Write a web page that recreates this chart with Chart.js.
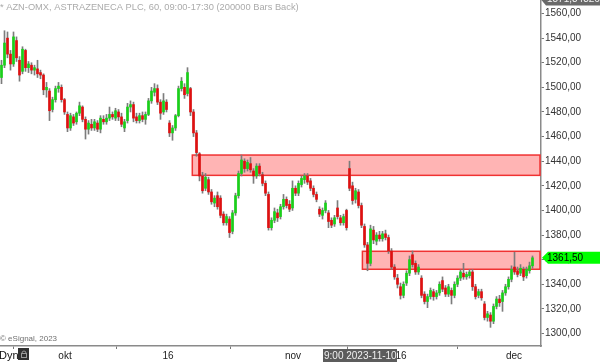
<!DOCTYPE html>
<html>
<head>
<meta charset="utf-8">
<script src="https://cdn.jsdelivr.net/npm/chart.js@4/dist/chart.umd.min.js"></script>
<style>
  html, body { margin: 0; padding: 0; background: #fff; }
  #wrap { width: 600px; height: 362px; }
</style>
</head>
<body>
<div id="wrap"><canvas id="chart" width="600" height="362"></canvas></div>
<script>
// hourly candles (one candle per ~3 px of the original)
const opens = [
  1508,1518,1540,1527,1519,1538,1522,1513,1530,1516,1518,1514,1515,1512,1510,
  1498,1497,1482,1490,1499,1500,1490,1478,1467,1476,1472,1479,1484,1474,1466,
  1470,1467,1471,1466,1474,1472,1475,1478,1475,1480,1476,1467,1473,1484,1486,
  1476,1473,1477,1474,1478,1489,1496,1499,1488,1480,1488,1471,1463,1467,1477,
  1499,1500,1495,1499,1480,1463,1446,1428,1418,1425,1415,1406,1412,1410,1397,
  1390,1393,1383,1398,1412,1430,1440,1434,1438,1432,1428,1436,1429,1422,1413,
  1386,1392,1398,1395,1403,1409,1405,1402,1418,1414,1421,1425,1428,1424,1418,
  1413,1401,1396,1400,1398,1392,1389,1402,1394,1390,1400,1434,1420,1409,1415,
  1404,1387,1372,1357,1384,1375,1380,1377,1381,1378,1367,1354,1345,1338,1331,
  1341,1349,1364,1357,1350,1345,1332,1326,1330,1334,1330,1333,1343,1337,1332,
  1335,1331,1340,1345,1349,1346,1347,1350,1338,1331,1334,1324,1313,1315,1310,
  1322,1328,1326,1333,1338,1344,1354,1351,1349,1352,1347,1351,1355
];
const highs = [
  1522,1546,1545,1530,1545,1541,1525,1533,1531,1521,1520,1518,1522,1514,1511,
  1504,1499,1492,1501,1504,1502,1491,1480,1479,1478,1480,1488,1485,1476,1473,
  1474,1474,1473,1477,1477,1478,1484,1480,1483,1482,1479,1474,1487,1489,1488,
  1479,1479,1480,1480,1491,1500,1503,1502,1490,1495,1490,1473,1469,1478,1501,
  1508,1503,1516,1500,1482,1465,1447,1431,1430,1427,1417,1412,1415,1412,1399,
  1397,1395,1400,1414,1432,1445,1442,1441,1443,1434,1438,1438,1431,1424,1415,
  1394,1402,1401,1405,1413,1411,1408,1424,1420,1424,1428,1430,1430,1426,1420,
  1415,1403,1402,1408,1400,1394,1396,1408,1396,1397,1401,1440,1423,1418,1417,
  1406,1389,1374,1388,1387,1382,1383,1383,1384,1380,1369,1356,1348,1341,1342,
  1351,1363,1367,1359,1356,1347,1334,1332,1337,1336,1335,1342,1346,1339,1340,
  1337,1342,1347,1352,1357,1350,1352,1352,1340,1336,1336,1326,1318,1317,1324,
  1330,1331,1335,1340,1346,1355,1366,1354,1356,1354,1354,1358,1363
];
const lows = [
  1503,1516,1524,1514,1517,1521,1505,1511,1513,1512,1511,1510,1508,1507,1494,
  1492,1473,1480,1488,1496,1488,1478,1464,1465,1469,1470,1477,1472,1458,1462,
  1465,1465,1464,1463,1470,1470,1473,1474,1473,1473,1468,1464,1471,1480,1472,
  1471,1471,1472,1470,1477,1487,1493,1486,1474,1478,1480,1460,1457,1465,1476,
  1497,1491,1493,1477,1460,1444,1424,1414,1416,1413,1405,1403,1401,1394,1388,
  1388,1378,1381,1396,1410,1428,1431,1432,1431,1422,1426,1428,1420,1412,1384,
  1384,1390,1391,1393,1401,1402,1399,1400,1412,1412,1419,1422,1421,1416,1411,
  1407,1395,1393,1398,1386,1386,1387,1393,1388,1388,1384,1416,1405,1406,1402,
  1386,1370,1351,1355,1373,1372,1375,1375,1376,1365,1352,1344,1337,1328,1329,
  1339,1347,1354,1348,1348,1329,1324,1321,1328,1327,1328,1331,1334,1330,1330,
  1324,1329,1338,1343,1344,1344,1345,1335,1328,1329,1327,1311,1310,1305,1308,
  1320,1322,1318,1331,1336,1342,1348,1346,1347,1343,1345,1349,1353
];
const closes = [
  1518,1536,1527,1519,1541,1524,1510,1531,1516,1519,1514,1516,1511,1510,1498,
  1500,1481,1490,1499,1501,1490,1480,1467,1477,1471,1479,1485,1474,1466,1471,
  1467,1472,1466,1475,1472,1475,1478,1476,1481,1476,1470,1472,1484,1486,1475,
  1473,1477,1474,1478,1489,1497,1499,1488,1479,1489,1482,1463,1467,1477,1499,
  1505,1494,1512,1480,1463,1447,1428,1416,1427,1415,1407,1410,1403,1396,1390,
  1395,1382,1398,1412,1430,1441,1434,1439,1433,1428,1436,1430,1422,1414,1386,
  1392,1399,1394,1403,1409,1404,1401,1418,1414,1422,1426,1428,1423,1418,1413,
  1409,1397,1400,1406,1391,1388,1394,1395,1390,1395,1386,1418,1408,1416,1404,
  1388,1372,1357,1385,1376,1380,1377,1381,1378,1367,1354,1346,1340,1331,1340,
  1349,1360,1356,1350,1354,1331,1326,1330,1335,1330,1333,1340,1336,1332,1338,
  1331,1340,1345,1350,1346,1348,1350,1338,1330,1334,1329,1313,1316,1310,1322,
  1328,1325,1333,1338,1344,1352,1350,1348,1353,1346,1352,1355,1361.5
];

// axis ticks
const yTicks = [1300,1320,1340,1360,1380,1400,1420,1440,1460,1480,1500,1520,1540,1560];
const xTickPos = [21.17, 55.5, 97.17, 133.17, 170.83];   // in candle index units
const xTickLabels = ["okt", "16", "nov", "16", "dec"];

// supply/demand zones
const zoneStart = [63.6, 120.3];
const zoneLow   = [1428.5, 1352.2];
const zoneHigh  = [1445, 1366.8];

const topPrice  = 1571.343265;
const lastPrice = 1361.5;
const titleText = "* AZN-OMX, ASTRAZENECA PLC, 60, 09:00-17:30 (200000 Bars Back)";
const cursorTime = "9:00 2023-11-10";

const FONT = "'Liberation Sans', Arial, sans-serif";

function fmt(v, d) {
    return v.toFixed(d).replace(".", ",");
}

const decorPlugin = {
    id: "decor",
    beforeDatasetsDraw(chart) {
        const { ctx, chartArea, scales } = chart;
        ctx.save();
        zoneStart.forEach((s, i) => {
            const x0 = scales.x.getPixelForValue(s);
            const x1 = chartArea.right - 1;
            const y0 = scales.y.getPixelForValue(zoneHigh[i]);
            const y1 = scales.y.getPixelForValue(zoneLow[i]);
            ctx.fillStyle = "#ffb4b4";
            ctx.fillRect(x0, y0, x1 - x0, y1 - y0);
            ctx.strokeStyle = "#f03232";
            ctx.lineWidth = 1.5;
            ctx.strokeRect(x0, y0, x1 - x0, y1 - y0);
        });
        ctx.restore();
    },
    afterDraw(chart) {
        const { ctx, chartArea, scales } = chart;
        ctx.save();
        // title
        ctx.font = "9.3px " + FONT;
        ctx.fillStyle = "#ababab";
        ctx.textBaseline = "middle";
        ctx.textAlign = "left";
        ctx.fillText(titleText, 0, 7);

        // copyright
        ctx.font = "8px " + FONT;
        ctx.fillStyle = "#707070";
        ctx.fillText("\u00a9 eSignal, 2023", 0, 339);

        // Dyn + lock icon
        ctx.font = "11px " + FONT;
        ctx.fillStyle = "#111";
        ctx.fillText("Dyn", -1, 356);
        ctx.fillStyle = "#303030";
        ctx.fillRect(18, 348, 11, 12);
        ctx.strokeStyle = "#9a9a9a";
        ctx.lineWidth = 1;
        ctx.strokeRect(21.5, 353.5, 5, 4);
        ctx.beginPath();
        ctx.arc(24, 353, 2, Math.PI, 0);
        ctx.stroke();

        // crosshair time label
        ctx.fillStyle = "#5c5c5c";
        ctx.fillRect(323, 349, 74, 13);
        ctx.font = "10px " + FONT;
        ctx.fillStyle = "#f0f0f0";
        ctx.fillText(cursorTime, 324, 356);

        // top price tag (cut off)
        const right = chartArea.right;
        let y = scales.y.getPixelForValue(topPrice);
        ctx.fillStyle = "#6a6a6a";
        ctx.beginPath();
        ctx.moveTo(right, y);
        ctx.lineTo(right + 5, y - 6);
        ctx.lineTo(600, y - 6);
        ctx.lineTo(600, y + 6);
        ctx.lineTo(right + 5, y + 6);
        ctx.closePath();
        ctx.fill();
        ctx.fillStyle = "#f4f4f4";
        ctx.fillText(fmt(topPrice, 6), right + 6, y);

        // last price tag
        y = scales.y.getPixelForValue(lastPrice);
        ctx.fillStyle = "#00ff00";
        ctx.beginPath();
        ctx.moveTo(right + 1, y);
        ctx.lineTo(right + 7, y - 6);
        ctx.lineTo(600, y - 6);
        ctx.lineTo(600, y + 6);
        ctx.lineTo(right + 7, y + 6);
        ctx.closePath();
        ctx.fill();
        ctx.fillStyle = "#000";
        ctx.fillText(fmt(lastPrice, 2), right + 6, y + 0.5);
        ctx.restore();
    }
};

function createChart() {
    const ctx = document.getElementById("chart").getContext("2d");
    const idx = closes.map((c, i) => i);

    const bodies = idx.map(i => ({ x: i, y: [opens[i], closes[i]] }));
    const wicks = idx.map(i => ({ x: i, y: [lows[i], highs[i]] }));
    const bodyColors = idx.map(i => closes[i] >= opens[i] ? "#19d119" : "#e01010");

    new Chart(ctx, {
        type: "bar",
        data: {
            datasets: [
                { label: "body", data: bodies, backgroundColor: bodyColors, barThickness: 2, minBarLength: 1, grouped: false },
                { label: "wick", data: wicks, backgroundColor: "#7c7c7c", barThickness: 1, grouped: false }
            ]
        },
        options: {
            responsive: false,
            animation: false,
            devicePixelRatio: 1,
            layout: { padding: 0 },
            plugins: { legend: { display: false }, tooltip: { enabled: false } },
            scales: {
                x: {
                    type: "linear",
                    min: -0.5,
                    max: 179.83,
                    offset: false,
                    afterBuildTicks: (scale) => { scale.ticks = xTickPos.map(v => ({ value: v })); },
                    afterFit: (scale) => { scale.height = 16; scale.paddingLeft = 0; scale.paddingRight = 0; },
                    ticks: {
                        autoSkip: false,
                        maxRotation: 0,
                        padding: 1,
                        color: "#222",
                        font: { family: FONT, size: 10 },
                        callback: (v, i) => xTickLabels[i]
                    },
                    grid: { drawOnChartArea: false, drawTicks: true, tickLength: 3, tickColor: "#777" },
                    border: { color: "#8a8a8a", width: 1.5 }
                },
                y: {
                    position: "right",
                    min: 1289.85,
                    max: 1570.97,
                    afterBuildTicks: (scale) => { scale.ticks = yTicks.map(v => ({ value: v })); },
                    afterFit: (scale) => { scale.width = 59; scale.paddingTop = 0; scale.paddingBottom = 0; },
                    ticks: {
                        padding: 1,
                        color: "#333",
                        font: { family: FONT, size: 10 },
                        callback: (v) => fmt(v, 2)
                    },
                    grid: { drawOnChartArea: false, drawTicks: true, tickLength: 3, tickColor: "#777" },
                    border: { color: "#8a8a8a", width: 1.5 }
                }
            }
        },
        plugins: [decorPlugin]
    });
}

document.addEventListener("DOMContentLoaded", createChart);
</script>
</body>
</html>
